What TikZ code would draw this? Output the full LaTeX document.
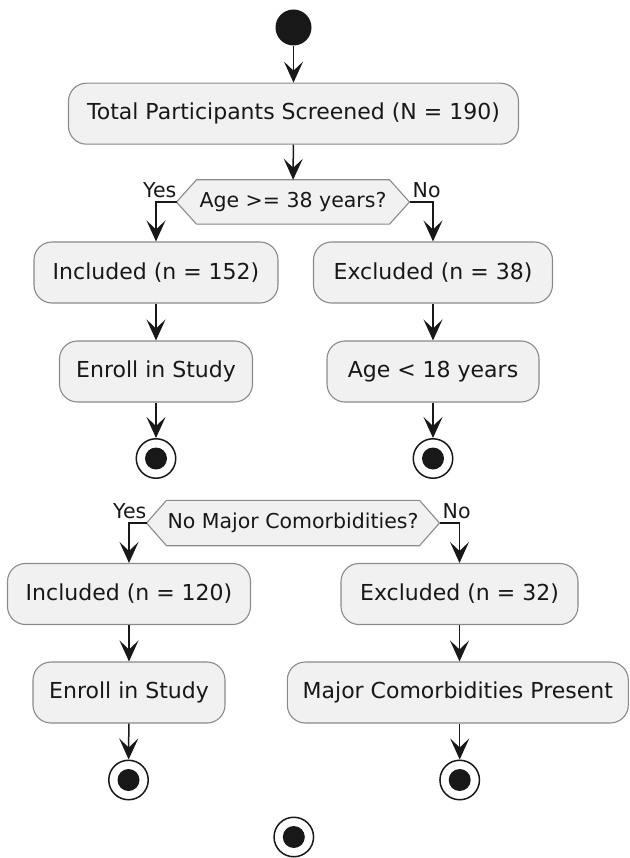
\documentclass[tikz,border=0pt]{standalone}
\usepackage{fontspec}
\setmainfont{DejaVu Sans}
\usetikzlibrary{arrows.meta,backgrounds}
\definecolor{boxfill}{HTML}{F1F1F1}
\definecolor{boxline}{HTML}{8A8A8A}
\definecolor{ink}{HTML}{181818}
\begin{document}
\begin{tikzpicture}[x=1pt,y=-1pt,
  act/.style={draw=boxline, fill=boxfill, line width=1.1pt, rounded corners=18pt,
    minimum height=61pt, inner xsep=0pt, font=\fontsize{22}{26}\selectfont, text=ink},
  dtext/.style={inner sep=0pt, minimum height=44pt, font=\fontsize{20.5}{24}\selectfont, text=ink},
  hexa/.style={draw=boxline, fill=boxfill, line width=1.1pt},
  lbl/.style={inner sep=0pt, font=\fontsize{20.5}{24}\selectfont, text=ink},
  arr/.style={draw=ink, line width=1.5pt, -{Stealth[length=21pt,width=19pt,inset=9pt]}},
  startnode/.style={circle, fill=ink, minimum size=36pt, inner sep=0pt},
  endnode/.style={circle, draw=ink, fill=white, line width=1.5pt, minimum size=39.5pt, inner sep=0pt,
    path picture={\fill[ink] (path picture bounding box.center) circle (11pt);}},
]
\useasboundingbox (0,0) rectangle (629,858);

\node[startnode] (s) at (293.5,27.5) {};
\node[act, minimum width=450pt] (a) at (293.5,113.7) {Total Participants Screened (N = 190)};
\node[dtext, minimum width=232.6pt] (d1) at (293,202) {Age >= 38 years?};
\node[act, minimum width=244pt] (i1) at (156,272.5) {Included (n = 152)};
\node[act, minimum width=239pt] (e1) at (433,272.5) {Excluded (n = 38)};
\node[act, minimum width=193pt] (r1) at (156,371.5) {Enroll in Study};
\node[act, minimum width=212pt] (g1) at (433,371.5) {Age < 18 years};
\node[endnode] (t1) at (156,458.5) {};
\node[endnode] (t2) at (433,458.5) {};

\node[dtext, minimum width=292.6pt, minimum height=45pt] (d2) at (293,523) {No Major Comorbidities?};
\node[act, minimum width=243pt] (i2) at (129,594) {Included (n = 120)};
\node[act, minimum width=237pt] (e2) at (459.5,594) {Excluded (n = 32)};
\node[act, minimum width=192pt] (r2) at (129,692.5) {Enroll in Study};
\node[act, minimum width=341pt] (m2) at (457.8,692.5) {Major Comorbidities Present};
\node[endnode] (t3) at (128.5,780) {};
\node[endnode] (t4) at (459.7,780) {};
\node[endnode] (t5) at (293.8,837) {};

\begin{scope}[on background layer]
\draw[hexa] (d1.west) -- ([xshift=20pt]d1.north west) -- ([xshift=-20pt]d1.north east)
  -- (d1.east) -- ([xshift=-20pt]d1.south east) -- ([xshift=20pt]d1.south west) -- cycle;
\draw[hexa] (d2.west) -- ([xshift=20pt]d2.north west) -- ([xshift=-20pt]d2.north east)
  -- (d2.east) -- ([xshift=-20pt]d2.south east) -- ([xshift=20pt]d2.south west) -- cycle;
\end{scope}

\node[lbl, anchor=base east] (y1) at ([yshift=4.5pt]d1.west) {Yes};
\node[lbl, anchor=base west] (n1) at ([xshift=3pt,yshift=4.5pt]d1.east) {No};
\node[lbl, anchor=base east] (y2) at ([yshift=4.5pt]d2.west) {Yes};
\node[lbl, anchor=base west] (n2) at ([xshift=3pt,yshift=4.5pt]d2.east) {No};

\draw[arr] (s) -- (a);
\draw[arr] (a) -- (d1);
\draw[arr] (d1.west) -| (i1.north);
\draw[arr] (d1.east) -| (e1.north);
\draw[arr] (i1) -- (r1);
\draw[arr] (e1) -- (g1);
\draw[arr] (r1) -- (t1);
\draw[arr] (g1) -- (t2);

\draw[arr] (d2.west) -| (i2.north);
\draw[arr] (d2.east) -| (e2.north);
\draw[arr] (i2) -- (r2);
\draw[arr] (e2.south) -- (e2.south |- m2.north);
\draw[arr] (r2) -- (t3);
\draw[arr] (m2.south -| t4) -- (t4);
\end{tikzpicture}
\end{document}
